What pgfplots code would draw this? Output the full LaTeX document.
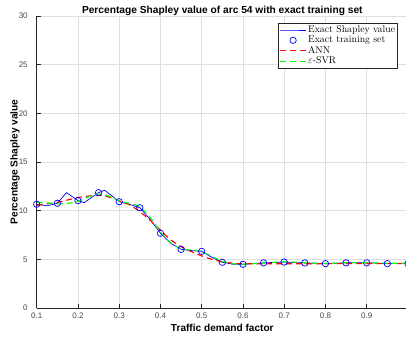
\documentclass[border=0pt]{standalone}
\usepackage{fontspec}
\usepackage{pgfplots}
\pgfplotsset{compat=1.18}
\newfontfamily\helv{Liberation Sans}
\definecolor{axgray}{RGB}{38,38,38}
\definecolor{gridgray}{RGB}{223,223,223}
\begin{document}
\begin{tikzpicture}
\begin{axis}[
  scale only axis, width=371.25pt, height=292pt,
  at={(0,0)}, anchor=south west,
  xmin=0.1, xmax=1, ymin=0, ymax=30,
  axis x line*=bottom, axis y line*=left,
  axis line style={-, draw=axgray, line width=0.7pt},
  xtick={0.1,0.2,0.3,0.4,0.5,0.6,0.7,0.8,0.9,1},
  xticklabels={0.1,0.2,0.3,0.4,0.5,0.6,0.7,0.8,0.9,1},
  ytick={0,5,10,15,20,25,30},
  tick align=inside, major tick length=4pt,
  tick style={axgray, line width=0.7pt},
  grid=major, grid style={gridgray, line width=0.6pt},
  /pgf/number format/assume math mode=true,
  ticklabel style={font=\helv\fontsize{8}{9}\selectfont, text=axgray!85},
  xticklabel style={yshift=-1.5pt},
  yticklabel style={xshift=-5.5pt},
  title={Percentage Shapley value of arc 54 with exact training set},
  title style={at={(axis description cs:0.5,1)}, anchor=base, yshift=-4pt, font=\helv\bfseries\fontsize{10.2}{12}\selectfont},
  xlabel={Traffic demand factor},
  xlabel style={at={(axis description cs:0.5,0)}, anchor=base, yshift=-24pt, font=\helv\bfseries\fontsize{10.1}{12}\selectfont},
  legend cell align=left,
  legend style={at={(axis description cs:0.973,0.976)}, anchor=north east,
    font=\fontsize{9.8}{11.5}\selectfont, draw=axgray, line width=0.6pt,
    inner xsep=1pt, inner ysep=1.5pt, row sep=0pt, nodes={inner xsep=1.5pt, inner ysep=1pt}},
  legend image code/.code={\draw[mark repeat=2,mark phase=2,#1] plot coordinates {(0pt,0pt) (13pt,0pt) (26pt,0pt)};},
]
\addplot[blue, line width=0.7pt, mark=none] coordinates {
(0.1,10.66) (0.125,10.5) (0.15,10.76) (0.172,11.85) (0.2,11.03) (0.215,10.82)
(0.25,11.85) (0.265,12.1) (0.3,10.92) (0.325,10.65) (0.35,10.3) (0.375,9.1)
(0.4,7.68) (0.425,6.65) (0.45,6.03) (0.475,5.9) (0.5,5.82) (0.525,5.2)
(0.55,4.7) (0.575,4.5) (0.6,4.49) (0.65,4.64) (0.7,4.72) (0.75,4.63)
(0.8,4.56) (0.85,4.64) (0.9,4.64) (0.95,4.56) (1.0,4.56)};
\addlegendentry{Exact Shapley value}
\addplot[only marks, mark=o, mark size=3.2pt, blue, mark options={line width=0.7pt}] coordinates {
(0.1,10.66) (0.15,10.76) (0.2,11.03) (0.25,11.85) (0.3,10.92) (0.35,10.3)
(0.4,7.68) (0.45,6.03) (0.5,5.82) (0.55,4.7) (0.6,4.49) (0.65,4.64)
(0.7,4.72) (0.75,4.63) (0.8,4.56) (0.85,4.64) (0.9,4.64) (0.95,4.56) (1.0,4.56)};
\addlegendentry{Exact training set}
\addplot[red, line width=1.1pt, dash pattern=on 6pt off 4pt, smooth, mark=none] coordinates {
(0.1,10.55) (0.125,10.7) (0.15,10.85) (0.175,11.1) (0.2,11.35) (0.225,11.5)
(0.25,11.6) (0.275,11.4) (0.3,11.0) (0.325,10.6) (0.35,9.9) (0.375,9.0)
(0.4,8.0) (0.425,7.0) (0.45,6.3) (0.475,5.8) (0.5,5.35) (0.525,5.0)
(0.55,4.75) (0.575,4.6) (0.6,4.55) (0.65,4.55) (0.7,4.55) (0.8,4.55)
(0.9,4.57) (1.0,4.55)};
\addlegendentry{ANN}
\addplot[green, line width=1.1pt, dash pattern=on 6pt off 4pt, smooth, mark=none] coordinates {
(0.1,10.85) (0.125,10.8) (0.15,10.7) (0.175,10.75) (0.2,10.95) (0.225,11.4)
(0.25,11.7) (0.275,11.5) (0.3,11.0) (0.325,10.75) (0.35,10.4) (0.375,9.3)
(0.4,7.8) (0.425,6.7) (0.45,6.1) (0.475,5.95) (0.5,5.8) (0.525,5.3)
(0.55,4.8) (0.575,4.55) (0.6,4.5) (0.65,4.62) (0.7,4.75) (0.75,4.65)
(0.8,4.58) (0.85,4.65) (0.9,4.65) (0.95,4.6) (1.0,4.6)};
\addlegendentry{$\varepsilon$-SVR}
\end{axis}
\node[rotate=90, anchor=base, font=\helv\bfseries\fontsize{10.1}{12}\selectfont, text=black]
  at (-19pt,146pt) {Percentage Shapley value};
\pgfresetboundingbox
\path[use as bounding box] (-36.7pt,-31pt) rectangle (369.3pt,308pt);
\end{tikzpicture}
\end{document}
